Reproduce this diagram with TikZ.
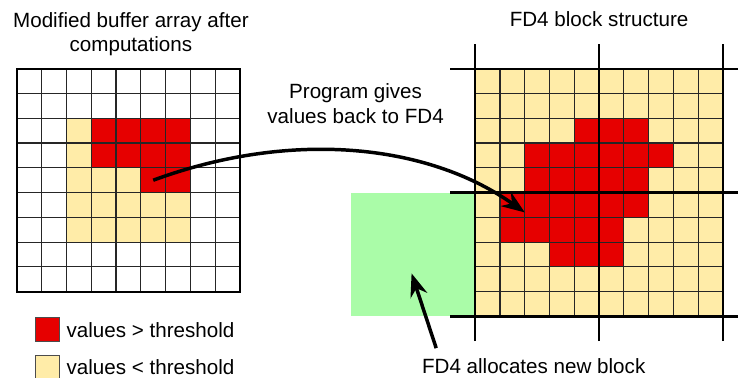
\documentclass[tikz,border=0pt]{standalone}
\usepackage{fontspec}
\setmainfont{Liberation Sans}
\usetikzlibrary{positioning,arrows.meta,calc}
\definecolor{hotred}{RGB}{230,0,0}
\definecolor{coldyellow}{RGB}{255,236,168}
\definecolor{newgreen}{RGB}{170,252,168}
\tikzset{
    %Define standard arrow tip
    >={Stealth[length=16pt,width=12pt]},
    % Define arrow style
    flow/.style={
           ->,
           line width=2.4pt,}
}
\newcommand{\cellsize}{0.6cm}
\newcommand{\labelfont}{\fontsize{14.2pt}{16.8pt}\selectfont}

\begin{document}
\begin{tikzpicture}[x=\cellsize, y=\cellsize, outer sep=0pt]
\tikzstyle{cellline}=[line width=0.8pt, black!85, step=\cellsize]
\tikzstyle{blockline}=[line width=1.7pt]
\tikzstyle{lbl}=[font=\labelfont, inner sep=1pt, align=center]
\tikzstyle{key}=[draw=black!70, line width=0.6pt, minimum size=0.98*\cellsize, inner sep=0pt]
\tikzstyle{newblk}=[fill=newgreen, minimum width=5*\cellsize, minimum height=5*\cellsize, inner sep=0pt]

\useasboundingbox (-0.686,-3.484) rectangle (29.108,11.776);

% buffer array, 9x9 cells
\fill[coldyellow] (2,2) rectangle (7,7);
\foreach \r/\a/\b in {2/3/6,3/3/6,4/5/6}
    \fill[hotred] (\a,8-\r) rectangle (\b+1,9-\r);
\draw[cellline] (0,0) grid (9,9);
\draw[line width=1.4pt] (0,0) rectangle (9,9);

% new block on the left of the FD4 blocks
\node[newblk] (newblock) at (16,1.5) {};

% FD4 blocks, 10x10 cells, 5x5 per block
\fill[coldyellow] (18.5,-1) rectangle (28.5,9);
\foreach \r/\a/\b in {2/4/6,3/2/7,4/2/6,5/1/6,6/1/5,7/3/5}
    \fill[hotred] (18.5+\a,8-\r) rectangle (19.5+\b,9-\r);
\draw[cellline, shift={(18.5,0)}] (0,-1) grid (10,9);
\foreach \x in {18.5,23.5,28.5}
    \draw[blockline] (\x,-2) -- (\x,10);
\foreach \y in {-1,4,9}
    \draw[blockline] (17.5,\y) -- (29.5,\y);

% titles and labels
\node[lbl] (buftitle) at (4.6,10.39) {Modified buffer array after\\computations};
\node[lbl, anchor=base] (fdtitle) at (23.5,10.69) {FD4 block structure};
\node[lbl] (progtext) at (13.67,7.59) {Program gives\\values back to FD4};
\node[lbl, anchor=base] (alloc) at (20.86,-3.29) {FD4 allocates new block};

% legend
\node[key, fill=hotred] (keyhot) at (1.22,-1.535) {};
\node[key, fill=coldyellow] (keycold) at (1.22,-3.05) {};
\node[lbl, right=4pt of keyhot] (hotlabel) {values > threshold};
\node[lbl, right=4pt of keycold] (coldlabel) {values < threshold};

% arrows
\coordinate (srccell) at (5.5,4.5);
\coordinate (dstcell) at (20.5,3.2);
\draw[flow] (srccell) .. controls (11.02,6.53) and (16.55,6.0) .. (dstcell);
\coordinate (newtip) at ($(newblock.south)+(-0.07,1.74)$);
\draw[flow] ([shift={(0.63,0.35)}]alloc.north west) -- (newtip);

\end{tikzpicture}
\end{document}
